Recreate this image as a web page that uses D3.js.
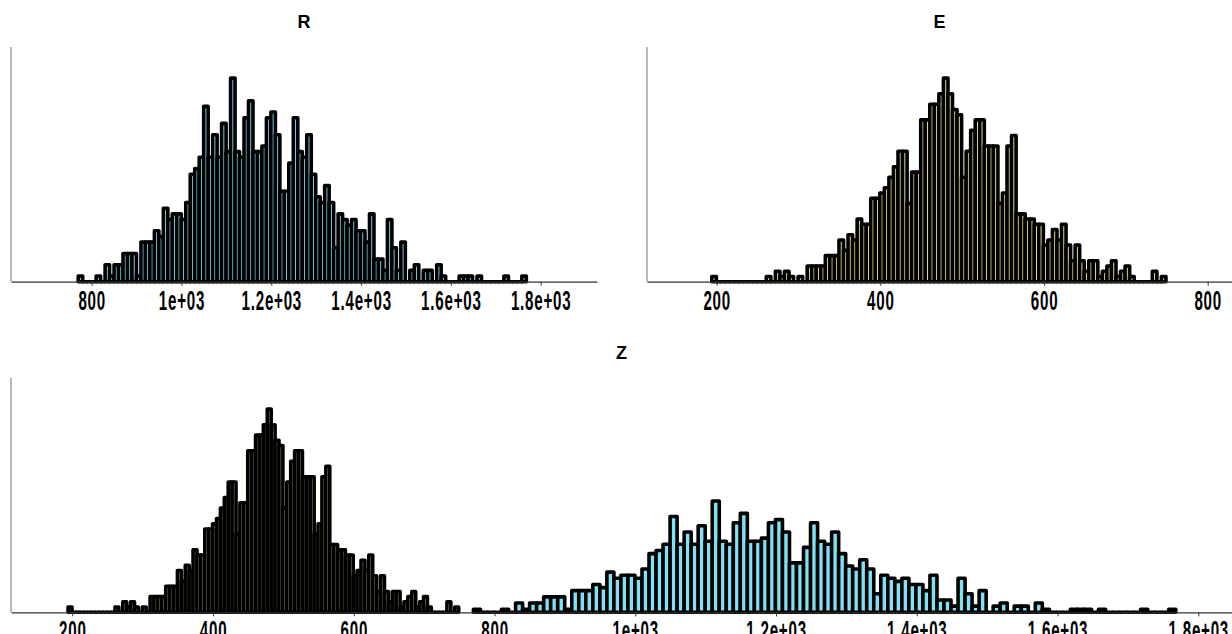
<!DOCTYPE html>
<html>
<head>
<meta charset="utf-8">
<script src="https://cdnjs.cloudflare.com/ajax/libs/d3/7.8.5/d3.min.js"></script>
<style>
  body { margin: 0; background: #fff; }
  svg text { font-family: "Liberation Sans", Arial, sans-serif; }
</style>
</head>
<body>
<div id="my_dataviz"></div>
<script>
// counts per bin (100 equal bins per series)
var rCounts = [1,0,0,0,1,0,3,1,3,3, 5,5,5,1,7,7,7,9,8,13, 11,12,12,11,14,19,20,22,31,22,
  26,22,28,23,36,23,22,29,32,23, 23,24,29,30,26,16,16,21,29,23, 22,26,19,15,14,17,14,6,12,11,
  10,11,9,9,7,12,4,4,2,11, 6,2,7,0,2,3,0,2,2,0, 3,1,0,0,0,1,1,1,0,1, 0,0,0,0,0,1,0,0,0,1];
var eCounts = [1,0,0,0,0,0,0,0,0,0, 0,0,1,0,2,1,2,1,0,1, 0,3,3,3,3,5,5,5,8,6,
  9,8,12,11,11,16,16,17,18,20, 22,25,25,15,21,21,31,31,34,34, 36,39,36,33,32,20,25,29,31,31,
  26,26,26,15,17,26,28,13,13,12, 12,11,11,7,8,10,8,11,7,4, 7,4,2,4,4,1,2,3,4,1, 2,3,1,0,0,0,0,2,0,1];
var rRange = [770, 1768];
var eRange = [194, 749];

var leftTicks = [800, 1000, 1200, 1400, 1600, 1800];
var leftLabels = ["800", "1e+03", "1.2e+03", "1.4e+03", "1.6e+03", "1.8e+03"];
var rightTicks = [200, 400, 600, 800];
var rightLabels = ["200", "400", "600", "800"];
var bottomTicks = [200, 400, 600, 800, 1000, 1200, 1400, 1600, 1800];
var bottomLabels = ["200", "400", "600", "800", "1e+03", "1.2e+03", "1.4e+03", "1.6e+03", "1.8e+03"];

var rColor = "#7fe3f6", eColor = "#efe88c";

var W = 1232, H = 634;

function makeBins(counts, range) {
    var w = (range[1] - range[0]) / counts.length;
    var total = d3.sum(counts);
    return counts.map(function(n, i) {
        return {x0: range[0] + i * w, x1: range[0] + (i + 1) * w, n: n, dens: n / (total * w)};
    });
}

var rBins = makeBins(rCounts, rRange);
var eBins = makeBins(eCounts, eRange);

var svg = d3.select("#my_dataviz")
    .append("svg")
    .attr("width", W)
    .attr("height", H);

function drawPanel(box, domain, series, ticks, labels, title, key) {
    var g = svg.append("g");
    var x = d3.scaleLinear().domain(domain).range([box.left, box.right]);
    var allVals = [];
    series.forEach(function(s) { s.bins.forEach(function(b) { allVals.push(b[key]); }); });
    var y = d3.scaleLinear()
        .domain([0, d3.max(allVals) * 1.153])
        .range([box.bottom, box.top]);

    series.forEach(function(s) {
        g.append("g")
            .selectAll("path")
            .data(s.bins)
            .enter()
            .append("path")
            .attr("d", function(d) {
                var a = x(d.x0), b = x(d.x1), y0 = y(0), y1 = y(d[key]);
                return "M" + a + "," + y0 + "V" + y1 + "H" + b + "V" + y0 + "Z";
            })
            .style("fill", s.color)
            .style("stroke", "#000")
            .style("stroke-width", 3.6)
            .style("stroke-linejoin", "round");
    });

    // left spine
    g.append("line")
        .attr("x1", box.left).attr("x2", box.left)
        .attr("y1", box.top).attr("y2", box.bottom)
        .style("stroke", "#888")
        .style("stroke-width", 1.2);

    var ax = g.append("g")
        .attr("transform", "translate(0," + box.bottom + ")")
        .call(d3.axisBottom(x)
            .tickValues(ticks)
            .tickFormat(function(d, i) { return labels[i]; })
            .tickSizeInner(4)
            .tickSizeOuter(0)
            .tickPadding(5));
    ax.select(".domain").style("stroke", "#333").style("stroke-width", 1.2);
    ax.selectAll(".tick line").style("stroke", "#333");
    ax.selectAll(".tick text")
        .attr("font-size", 27)
        .style("font-size", "27px")
        .style("font-weight", "bold")
        .style("letter-spacing", "1.4px")
        .style("fill", "#000")
        .attr("transform", "scale(0.56,1)");

    g.append("text")
        .attr("x", (box.left + box.right) / 2)
        .attr("y", box.top - 19)
        .attr("text-anchor", "middle")
        .style("font-size", "18px")
        .style("font-weight", "bold")
        .text(title);
}

drawPanel({left: 11, right: 597, top: 47, bottom: 281.7}, [620.3, 1925.4],
    [{bins: rBins, color: rColor}], leftTicks, leftLabels, "R", "n");
drawPanel({left: 647, right: 1232, top: 47, bottom: 281.7}, [114.8, 829.7],
    [{bins: eBins, color: eColor}], rightTicks, rightLabels, "E", "n");
drawPanel({left: 11, right: 1232, top: 378, bottom: 612.3}, [112.9, 1847.9],
    [{bins: eBins, color: eColor}, {bins: rBins, color: rColor}], bottomTicks, bottomLabels, "Z", "dens");
</script>
</body>
</html>
